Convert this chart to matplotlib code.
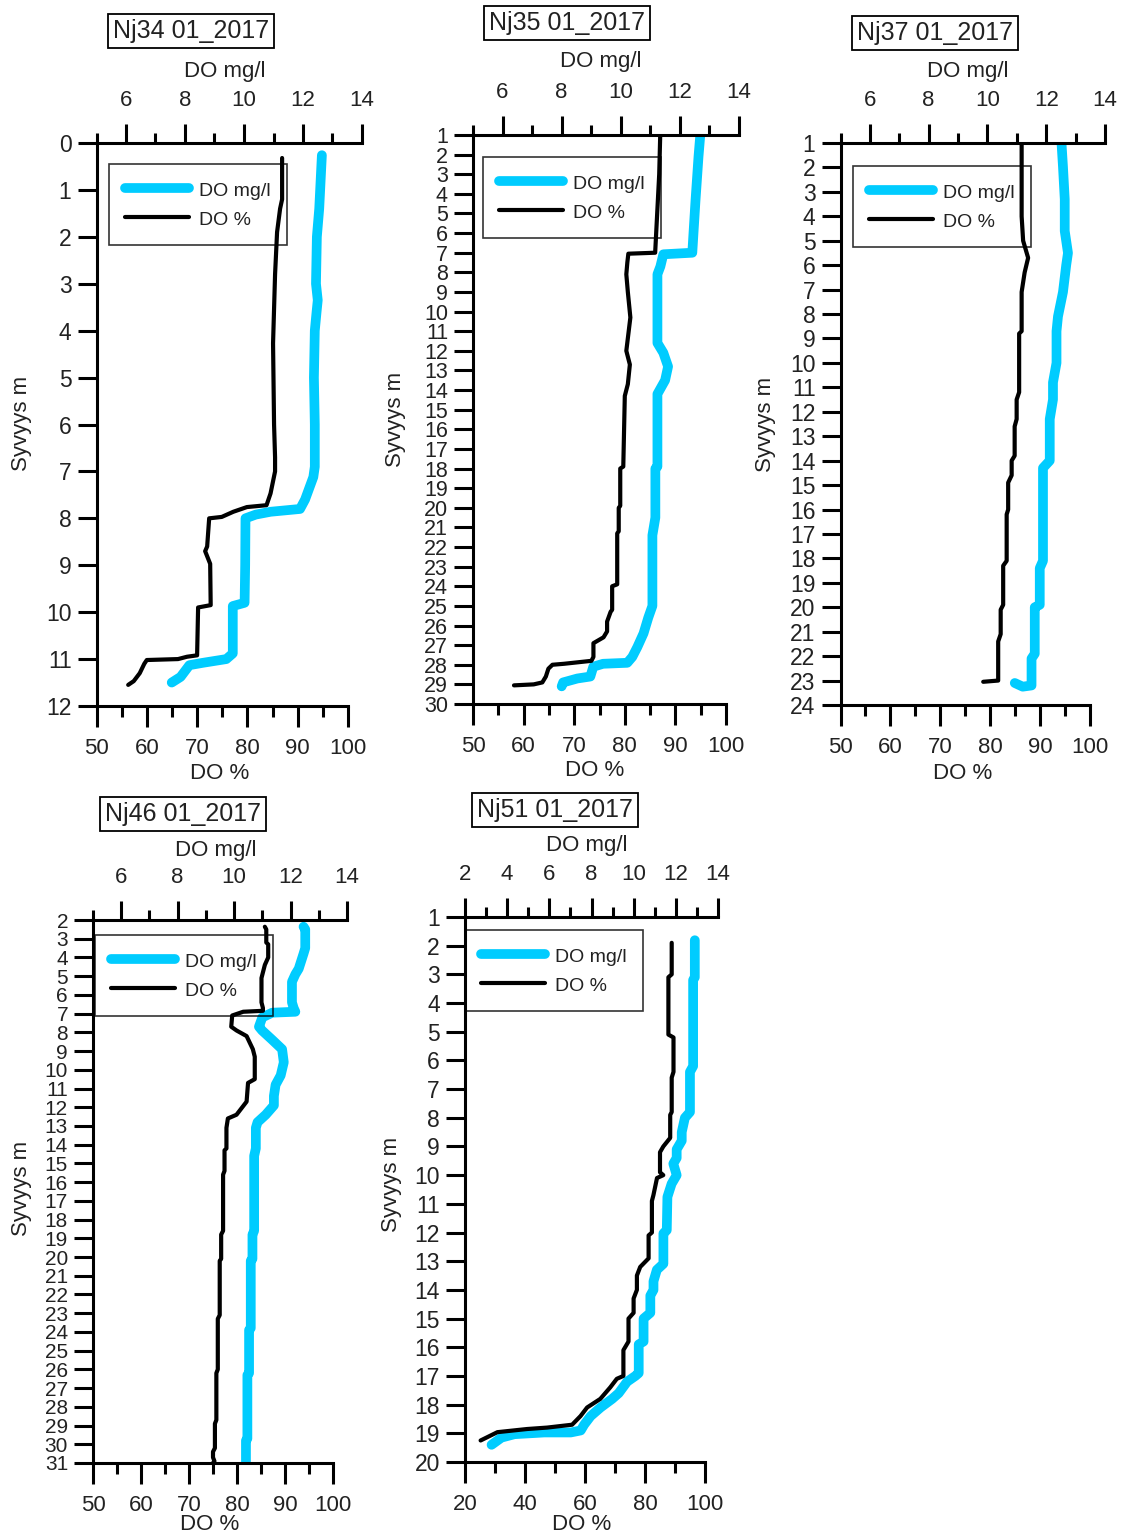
import matplotlib.pyplot as plt
from matplotlib.ticker import MultipleLocator

plt.rcParams['font.family'] = ['Liberation Sans', 'DejaVu Sans']

W, H = 1121, 1537
CYAN = '#00CCFF'
TXT = '#222222'

# ---- profile data: depth (m) vs dissolved oxygen ----
nj34_mg_depth = [0.26, 1.4, 2.0, 3.0, 3.35, 3.6, 4.0, 5.0, 6.0, 6.9, 7.12, 7.6, 7.8, 7.86, 7.92, 8.0,
                 9.0, 9.8, 9.87, 10.88, 11.0, 11.08, 11.13, 11.38, 11.5]
nj34_mg = [12.64, 12.55, 12.47, 12.44, 12.5, 12.46, 12.4, 12.37, 12.4, 12.4, 12.35, 12.07, 11.9, 10.9, 10.4, 10.05,
           10.04, 10.02, 9.62, 9.62, 9.4, 8.6, 8.15, 7.85, 7.55]
nj34_pct_depth = [0.32, 1.2, 1.4, 1.9, 2.8, 4.27, 6.0, 6.7, 7.0, 7.47, 7.72, 7.76, 7.86, 7.97, 8.0, 8.6, 8.7,
                  8.97, 9.85, 9.9, 10.92, 10.95, 11.0, 11.02, 11.1, 11.3, 11.47, 11.55]
nj34_pct = [86.9, 86.9, 86.5, 85.9, 85.5, 85.1, 85.3, 85.5, 85.5, 84.6, 83.8, 79.9, 77.2, 74.9, 72.4, 72.0, 71.6,
            72.6, 72.7, 70.2, 70.0, 68.0, 66.2, 60.0, 59.5, 58.6, 57.4, 56.3]

nj35_mg_depth = [1.0, 2.1, 4.3, 6.0, 7.0, 7.08, 7.7, 8.1, 11.6, 12.1, 12.8, 13.5, 14.2, 17.9, 18.0, 20.5, 21.4,
                 25.0, 25.6, 26.4, 27.1, 27.6, 27.9, 27.95, 28.1, 28.6, 28.7, 28.9, 29.1]
nj35_mg = [12.69, 12.63, 12.53, 12.46, 12.42, 11.44, 11.34, 11.24, 11.24, 11.44, 11.6, 11.5, 11.24, 11.24, 11.17,
           11.17, 11.07, 11.07, 10.93, 10.77, 10.56, 10.39, 10.22, 9.4, 9.07, 8.97, 8.53, 8.05, 8.0]
nj35_pct_depth = [1.0, 3.0, 6.0, 7.0, 7.05, 7.5, 8.1, 9.0, 10.3, 12.0, 12.7, 13.7, 14.3, 17.9, 18.0, 19.9, 20.0,
                  21.2, 21.3, 23.9, 24.0, 25.2, 25.3, 25.8, 26.3, 26.6, 26.9, 27.6, 27.8, 27.95, 28.0, 28.2,
                  28.6, 28.9, 29.0, 29.05]
nj35_pct = [87.0, 86.8, 86.2, 86.0, 80.7, 80.5, 80.3, 80.6, 81.1, 80.3, 81.0, 80.6, 80.0, 79.7, 79.1, 79.1, 78.8,
            78.8, 78.5, 78.5, 77.5, 77.5, 77.2, 76.5, 76.5, 75.8, 73.8, 73.8, 73.4, 68.0, 65.7, 64.9,
            64.4, 63.7, 62.0, 58.1]

nj37_mg_depth = [1.0, 1.97, 3.3, 4.6, 5.5, 6.0, 7.1, 8.1, 8.7, 10.0, 10.8, 11.5, 12.3, 14.0, 14.3, 18.1, 18.4,
                 19.9, 20.0, 21.9, 22.1, 23.2, 23.25, 23.1]
nj37_mg = [12.52, 12.57, 12.63, 12.63, 12.74, 12.68, 12.57, 12.4, 12.35, 12.35, 12.23, 12.23, 12.12, 12.12, 11.89,
           11.89, 11.78, 11.78, 11.61, 11.61, 11.5, 11.5, 11.2, 10.93]
nj37_pct_depth = [1.0, 4.0, 5.0, 5.7, 6.3, 7.1, 8.7, 8.8, 11.2, 11.5, 12.3, 12.6, 13.8, 14.0, 14.6, 14.9, 16.0,
                  16.2, 18.1, 18.3, 19.9, 20.1, 21.1, 21.4, 23.0, 23.05]
nj37_pct = [86.3, 86.3, 86.6, 87.6, 86.9, 86.3, 86.3, 85.8, 85.8, 85.3, 85.3, 84.9, 84.9, 84.3, 84.3, 83.6, 83.6,
            83.3, 83.3, 82.6, 82.6, 82.1, 82.1, 81.6, 81.6, 78.6]

nj46_mg_depth = [2.36, 2.5, 3.5, 3.8, 4.6, 4.9, 5.3, 6.4, 6.7, 6.9, 6.95, 7.2, 7.7, 7.9, 8.4, 8.9, 9.6, 10.3,
                 10.8, 11.4, 11.9, 12.4, 12.8, 13.1, 14.2, 14.6, 18.6, 18.8, 20.1, 20.2, 23.8, 23.9, 26.2,
                 26.3, 29.7, 29.8, 31.1]
nj46_mg = [12.46, 12.52, 12.52, 12.46, 12.29, 12.17, 12.05, 12.05, 12.11, 12.17, 11.35, 11.0, 10.88, 10.99,
           11.35, 11.7, 11.76, 11.65, 11.47, 11.41, 11.41, 11.12, 10.83, 10.77, 10.77, 10.71, 10.71, 10.65,
           10.65, 10.59, 10.59, 10.53, 10.53, 10.47, 10.47, 10.42, 10.42]
nj46_pct_depth = [2.36, 2.5, 3.2, 3.3, 4.0, 4.4, 5.1, 6.4, 6.7, 6.85, 6.9, 7.1, 7.7, 7.9, 8.2, 8.9, 9.3, 10.5,
                  10.7, 11.7, 12.4, 12.6, 13.1, 14.2, 14.3, 15.4, 15.6, 18.6, 18.8, 20.1, 20.2, 23.1, 23.3,
                  26.0, 26.2, 28.7, 28.9, 30.2, 30.4, 30.7, 30.9, 31.0]
nj46_pct = [85.8, 86.1, 86.1, 86.5, 86.5, 85.8, 85.1, 85.1, 85.4, 85.4, 81.3, 79.0, 78.8, 79.9, 82.0, 83.3, 83.7,
            83.7, 82.3, 82.0, 79.9, 78.1, 77.8, 77.8, 77.4, 77.4, 77.1, 77.1, 76.7, 76.7, 76.4, 76.4, 76.0,
            76.0, 75.7, 75.7, 75.4, 75.4, 75.0, 75.0, 75.3, 75.0]

nj51_mg_depth = [1.81, 3.1, 3.2, 6.2, 6.4, 7.8, 8.0, 8.5, 8.8, 9.1, 9.4, 9.6, 10.0, 10.3, 10.76, 11.92, 12.03,
                 13.09, 13.3, 13.7, 14.0, 14.2, 14.8, 15.0, 15.8, 15.9, 16.9, 17.0, 17.2, 17.6, 17.8, 18.1,
                 18.4, 18.7, 18.9, 18.97, 18.97, 19.03, 19.15, 19.4]
nj51_mg = [12.9, 12.9, 12.82, 12.82, 12.67, 12.67, 12.43, 12.28, 12.28, 12.04, 12.04, 11.88, 12.04, 11.8, 11.6,
           11.57, 11.41, 11.41, 11.1, 10.94, 10.94, 10.79, 10.79, 10.47, 10.47, 10.24, 10.24, 10.08, 9.69,
           9.29, 8.98, 8.43, 7.96, 7.65, 7.49, 7.02, 5.76, 4.35, 3.73, 3.26]
nj51_pct_depth = [1.9, 3.0, 3.1, 5.1, 5.2, 6.4, 6.6, 7.8, 7.9, 8.7, 9.0, 9.2, 9.9, 10.0, 10.1, 10.7, 10.9, 12.0,
                  12.1, 12.9, 13.2, 13.5, 14.0, 14.3, 14.8, 15.0, 15.8, 16.1, 17.0, 17.1, 17.4, 17.8, 18.1,
                  18.4, 18.7, 18.8, 18.85, 18.96, 19.25]
nj51_pct = [88.9, 88.9, 87.8, 87.8, 89.5, 89.5, 88.9, 88.9, 88.4, 88.4, 86.1, 85.0, 85.0, 86.1, 84.0, 82.8, 82.3,
            82.3, 81.2, 81.2, 78.4, 77.3, 77.3, 76.2, 76.2, 74.5, 74.5, 72.8, 72.8, 70.6, 68.4, 65.1, 60.7,
            58.5, 55.7, 47.4, 40.7, 30.8, 25.2]

# panel layout in pixels: left, top, bottom, right of % axis, right of mg/l axis
panels = [
    dict(title='Nj34 01_2017', box=(96.5, 143, 706, 348, 362), depth=(0, 12), ysize=16.5,
         mg_lim=(5, 14), mg_major=2, pct_lim=(50, 100), pct_major=10,
         mg=(nj34_mg_depth, nj34_mg), pct=(nj34_pct_depth, nj34_pct),
         title_xy=(191, 31), mg_lab=(225, 71), pct_lab=(220, 773), y_lab=(22, 423), leg=(109, 164)),
    dict(title='Nj35 01_2017', box=(473, 135, 704, 726, 739), depth=(1, 30), ysize=15.5,
         mg_lim=(5, 14), mg_major=2, pct_lim=(50, 100), pct_major=10,
         mg=(nj35_mg_depth, nj35_mg), pct=(nj35_pct_depth, nj35_pct),
         title_xy=(567, 23), mg_lab=(601, 62), pct_lab=(595, 770), y_lab=(396, 419), leg=(483, 157)),
    dict(title='Nj37 01_2017', box=(840.5, 143, 705, 1090, 1105), depth=(1, 24), ysize=16.5,
         mg_lim=(5, 14), mg_major=2, pct_lim=(50, 100), pct_major=10,
         mg=(nj37_mg_depth, nj37_mg), pct=(nj37_pct_depth, nj37_pct),
         title_xy=(935, 33), mg_lab=(968, 71), pct_lab=(963, 773), y_lab=(766, 424), leg=(853, 166)),
    dict(title='Nj46 01_2017', box=(93, 920, 1463, 333, 347), depth=(2, 31), ysize=15,
         mg_lim=(5, 14), mg_major=2, pct_lim=(50, 100), pct_major=10,
         mg=(nj46_mg_depth, nj46_mg), pct=(nj46_pct_depth, nj46_pct),
         title_xy=(183, 814), mg_lab=(216, 851), pct_lab=(210, 1524), y_lab=(22, 1188), leg=(95, 935)),
    dict(title='Nj51 01_2017', box=(465, 917, 1462, 705, 718), depth=(1, 20), ysize=16.5,
         mg_lim=(2, 14), mg_major=2, pct_lim=(20, 100), pct_major=20,
         mg=(nj51_mg_depth, nj51_mg), pct=(nj51_pct_depth, nj51_pct),
         title_xy=(555, 810), mg_lab=(587, 846), pct_lab=(582, 1524), y_lab=(391, 1184), leg=(465, 930)),
]


def rect(left, top, right, bottom):
    return [left / W, 1 - bottom / H, (right - left) / W, (bottom - top) / H]


def fxy(x, y):
    return x / W, 1 - y / H


fig = plt.figure(figsize=(W / 100, H / 100), dpi=100)

for p in panels:
    left, top, bottom, r_pct, r_mg = p['box']
    d0, d1 = p['depth']

    # top axis: DO mg/l (cyan)
    ax_mg = fig.add_axes(rect(left, top, r_mg, bottom))
    # bottom axis: DO % (black), drawn over the cyan profile
    ax_pct = fig.add_axes(rect(left, top, r_pct, bottom))
    ax_pct.patch.set_visible(False)

    cyan_line, = ax_mg.plot(p['mg'][1], p['mg'][0], color=CYAN, lw=7,
                            solid_capstyle='round', solid_joinstyle='round', label='DO mg/l')
    black_line, = ax_pct.plot(p['pct'][1], p['pct'][0], color='black', lw=3,
                              solid_capstyle='round', solid_joinstyle='round', label='DO %')

    for ax in (ax_mg, ax_pct):
        ax.set_ylim(d1, d0)
        for s in ax.spines.values():
            s.set_linewidth(2.2)

    ax_mg.set_xlim(*p['mg_lim'])
    ax_mg.xaxis.tick_top()
    ax_mg.xaxis.set_major_locator(MultipleLocator(p['mg_major']))
    ax_mg.xaxis.set_minor_locator(MultipleLocator(p['mg_major'] / 2))
    ax_mg.set_yticks([])
    for side in ('left', 'right', 'bottom'):
        ax_mg.spines[side].set_visible(False)
    ax_mg.tick_params(axis='x', which='major', direction='out', length=14, width=2.2,
                      labelsize=16, labelcolor=TXT, pad=9)
    ax_mg.tick_params(axis='x', which='minor', direction='out', length=7.5, width=2.2)

    ax_pct.set_xlim(*p['pct_lim'])
    ax_pct.xaxis.set_major_locator(MultipleLocator(p['pct_major']))
    ax_pct.xaxis.set_minor_locator(MultipleLocator(p['pct_major'] / 2))
    ax_pct.yaxis.set_major_locator(MultipleLocator(1))
    for side in ('top', 'right'):
        ax_pct.spines[side].set_visible(False)
    ax_pct.tick_params(axis='x', which='major', direction='out', length=15, width=2.2,
                       labelsize=16, labelcolor=TXT, pad=8)
    ax_pct.tick_params(axis='x', which='minor', direction='out', length=8, width=2.2)
    ax_pct.tick_params(axis='y', direction='out', length=14, width=2.2,
                       labelsize=p['ysize'], labelcolor=TXT, pad=4)

    leg = ax_pct.legend(handles=[cyan_line, black_line], loc='upper left',
                        bbox_to_anchor=fxy(*p['leg']), bbox_transform=fig.transFigure,
                        borderaxespad=0, fancybox=False, edgecolor='black', facecolor='none',
                        fontsize=14, handlelength=3.3, handleheight=1.2, borderpad=0.8,
                        labelspacing=0.45, handletextpad=0.55)
    leg.get_frame().set_linewidth(1.2)
    for t in leg.get_texts():
        t.set_color(TXT)

    fig.text(*fxy(*p['title_xy']), p['title'], ha='center', va='center', fontsize=18, color=TXT,
             bbox=dict(boxstyle='square,pad=0.2', fc='white', ec='black', lw=1.3))
    fig.text(*fxy(*p['mg_lab']), 'DO mg/l', ha='center', va='center', fontsize=16, color=TXT)
    fig.text(*fxy(*p['pct_lab']), 'DO %', ha='center', va='center', fontsize=16, color=TXT)
    fig.text(*fxy(*p['y_lab']), 'Syvyys m', ha='center', va='center', rotation=90,
             fontsize=16, color=TXT)

plt.savefig('out.png', dpi=100)
